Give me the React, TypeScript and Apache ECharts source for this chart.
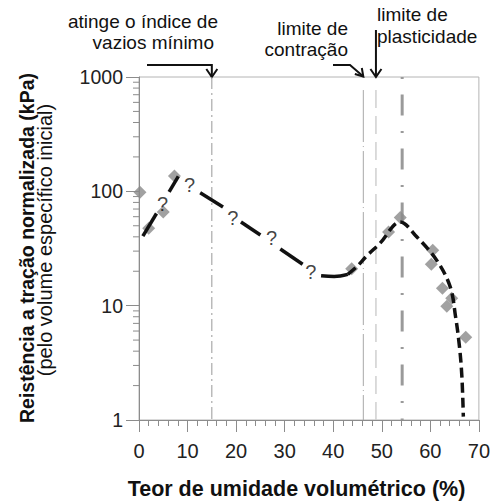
import React, { useEffect, useRef } from "react";
import * as echarts from "echarts";

// ---- data ----
const diamonds: [number, number][] = [
  [0.2, 98], [2, 47.5], [5, 66], [7.3, 136], [43.8, 21], [51.4, 44], [53.8, 59],
  [60.5, 30.5], [60.2, 23], [62.5, 14.2], [63.4, 9.9], [64.4, 11.6], [67.3, 5.3],
];
const questionMarks: [number, number][] = [
  [4.86, 78], [10.4, 113], [19.3, 59], [27.3, 38.8], [35.4, 19.8],
];
const solidPieces: [number, number][][] = [
  [[0.8, 40.5], [3.6, 64]],
  [[6.2, 99], [8.1, 135]],
  [[12.6, 97], [17.3, 73]],
  [[21, 54], [25, 41.5]],
  [[29.1, 31.3], [33.7, 23]],
  [[37.5, 18.3], [40.2, 18.0], [43, 18.8]],
];
const dashedCurve: [number, number][] = [
  [43, 18.8], [44.9, 22], [47, 27.5], [49.6, 35], [53.8, 54], [57.2, 40], [61.3, 25],
  [64.1, 14.6], [65.2, 8], [66, 4.4], [66.5, 2.4], [66.8, 1.07],
];
const vLineX = [15, 46.2, 48.8, 54.2];
const vLineTop = [1000, 769, 769, 1000];
const yMinorTicks: number[] = [];
[1, 10, 100].forEach((d) => {
  for (let k = 2; k <= 9; k++) yMinorTicks.push(k * d);
});

const FONT = "'Liberation Sans', Arial, sans-serif";

export default function App() {
  const ref = useRef<HTMLDivElement>(null);
  useEffect(() => {
    if (!ref.current) return;
    const chart = echarts.init(ref.current, null, { renderer: "svg" });

    const vStyles = [
      { color: "#999999", width: 1, type: [12, 4, 2, 4] },
      { color: "#a8a8a8", width: 1, type: [52, 4, 1, 4] },
      { color: "#cfcfcf", width: 1.5, type: [18, 8] },
      { color: "#9a9a9a", width: 3, type: [2, 15.5, 21, 15.5] },
    ];

    const series: any[] = [];
    vLineX.forEach((x, i) => {
      series.push({
        type: "line",
        data: [[x, vLineTop[i]], [x, 1]],
        symbol: "none",
        silent: true,
        z: 1,
        lineStyle: vStyles[i],
      });
    });
    series.push({
      type: "custom",
      data: yMinorTicks.map((v) => [0, v]),
      encode: { x: 0, y: 1 },
      silent: true,
      z: 1,
      renderItem: (params: any, api: any) => {
        const p = api.coord([0, api.value(1)]);
        return {
          type: "line",
          shape: { x1: p[0] - 6, y1: p[1], x2: p[0], y2: p[1] },
          style: { stroke: "#8c8c8c", lineWidth: 1 },
        };
      },
    });
    series.push({
      type: "scatter",
      data: diamonds,
      symbol: "diamond",
      symbolSize: 13,
      itemStyle: { color: "#8a8a8a" },
      clip: false,
      z: 2,
    });
    solidPieces.forEach((piece) => {
      series.push({
        type: "line",
        data: piece,
        symbol: "none",
        smooth: piece.length > 2 ? 0.4 : false,
        lineStyle: { color: "#111", width: 3.5, cap: "butt" },
        z: 3,
      });
    });
    series.push({
      type: "line",
      data: dashedCurve,
      symbol: "none",
      smooth: 0.35,
      lineStyle: { color: "#111", width: 3.5, type: [10, 5] },
      z: 3,
    });
    series.push({
      type: "scatter",
      data: questionMarks,
      symbolSize: 0,
      label: {
        show: true,
        position: "inside",
        formatter: "?",
        fontSize: 20,
        fontFamily: FONT,
        color: "#111",
      },
      z: 4,
    });

    chart.setOption({
      animation: false,
      grid: {
        left: 139,
        right: 14,
        top: 77,
        bottom: 83,
        show: true,
        borderColor: "#b4b4b4",
        borderWidth: 1,
      },
      xAxis: {
        type: "value",
        min: 0,
        max: 70,
        interval: 10,
        axisLine: { show: true, lineStyle: { color: "#8c8c8c" } },
        axisTick: { show: true, length: 12, lineStyle: { color: "#8c8c8c" } },
        minorTick: { show: true, splitNumber: 5, length: 6, lineStyle: { color: "#8c8c8c" } },
        splitLine: { show: false },
        axisLabel: { fontSize: 20, fontFamily: FONT, color: "#222", margin: 21 },
      },
      yAxis: {
        type: "log",
        logBase: 10,
        min: 1,
        max: 1000,
        axisLine: { show: true, lineStyle: { color: "#8c8c8c" } },
        axisTick: { show: true, length: 13, lineStyle: { color: "#8c8c8c" } },
        splitLine: { show: false },
        axisLabel: {
          fontSize: 19.5,
          fontFamily: FONT,
          color: "#222",
          margin: 16,
          formatter: (v: number) => String(Math.round(v)),
        },
      },
      series,
    });

    const px = (x: number, y: number) =>
      chart.convertToPixel({ xAxisIndex: 0, yAxisIndex: 0 }, [x, y]) as number[];
    const t0 = px(vLineX[0], 1000);
    const t1 = px(vLineX[1], 1000);
    const t2 = px(vLineX[2], 1000);

    const txt = (text: string, x: number, y: number, align: string) => ({
      type: "text",
      x,
      y,
      style: {
        text,
        fontSize: 19,
        fontFamily: FONT,
        fill: "#111",
        align,
        verticalAlign: "middle",
      },
    });
    const line = (points: number[][]) => ({
      type: "polyline",
      shape: { points },
      style: { stroke: "#111", lineWidth: 2, fill: null },
    });
    const tipY = t0[1];

    chart.setOption({
      graphic: [
        txt("atinge o índice de", 218, 21, "right"),
        txt("vazios mínimo", 214, 42, "right"),
        txt("limite de", 348, 28, "right"),
        txt("contração", 348, 49, "right"),
        txt("limite de", 377, 14, "left"),
        txt("plasticidade", 377, 36, "left"),
        line([[147, 65], [t0[0], 65], [t0[0], tipY]]),
        line([[t0[0] - 5.5, tipY - 8], [t0[0], tipY], [t0[0] + 5.5, tipY - 8]]),
        line([[333, 65], [350, 65], [t1[0], tipY - 0.5]]),
        line([[t1[0] - 8.5, tipY - 3], [t1[0], tipY - 0.5], [t1[0] - 1.5, tipY - 9]]),
        line([[t2[0], 30], [t2[0], tipY]]),
        line([[t2[0] - 5.5, tipY - 8], [t2[0], tipY], [t2[0] + 5.5, tipY - 8]]),
        {
          type: "text",
          x: 26.5,
          y: 248,
          rotation: Math.PI / 2,
          style: {
            text: "Reistência a tração normalizada (kPa)",
            fontSize: 19.5,
            fontWeight: "bold",
            fontFamily: FONT,
            fill: "#111",
            align: "center",
            verticalAlign: "middle",
          },
        },
        {
          type: "text",
          x: 45,
          y: 240,
          rotation: Math.PI / 2,
          style: {
            text: "(pelo volume específico inicial)",
            fontSize: 20,
            fontFamily: FONT,
            fill: "#111",
            align: "center",
            verticalAlign: "middle",
          },
        },
        {
          type: "text",
          x: 296.5,
          y: 489,
          style: {
            text: "Teor de umidade volumétrico (%)",
            fontSize: 21.5,
            fontWeight: "bold",
            fontFamily: FONT,
            fill: "#111",
            align: "center",
            verticalAlign: "middle",
          },
        },
      ],
    });

    return () => chart.dispose();
  }, []);
  return (
    <div
      ref={ref}
      style={{ position: "fixed", left: 0, top: 0, width: 493, height: 503, background: "#fff" }}
    />
  );
}
